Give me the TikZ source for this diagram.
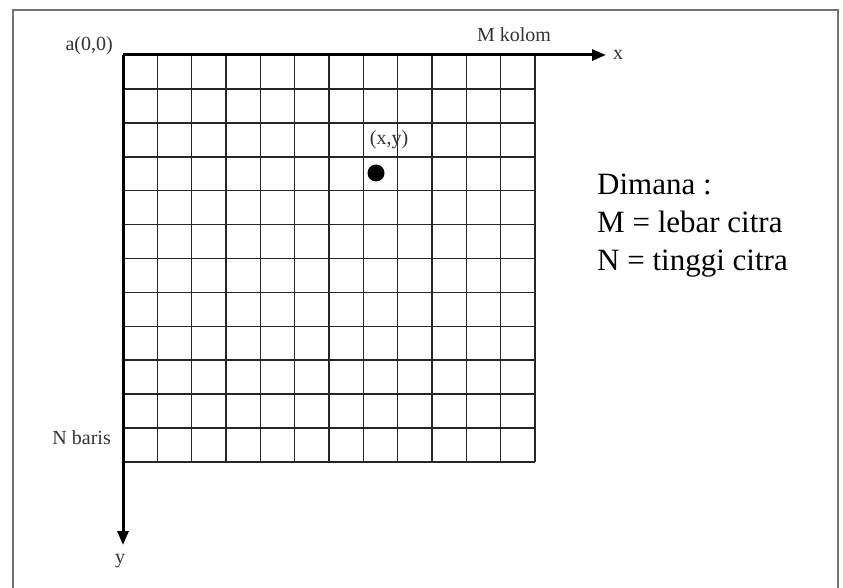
\documentclass[tikz,border=0pt]{standalone}
\usepackage{fontspec}
\setmainfont{Liberation Serif}
\usetikzlibrary{arrows.meta}
\begin{document}
\begin{tikzpicture}[x=1pt,y=-1pt,
    lbl/.style={black!80,font=\fontsize{20}{22}\selectfont,inner sep=1pt},
    axis/.style={line width=3pt,-{Triangle[length=14pt,width=11pt]}},
    pixgrid/.style={line width=1.6pt,black!85}]
  \useasboundingbox (0,0) rectangle (843,588);
  \draw[black!55,line width=2pt] (13,588) -- (13,10) -- (838,10) -- (838,588);
  % grid of pixels, 12 x 12
  \foreach \i in {0,...,12} {
    \draw[pixgrid] ({123+34.33*\i},55) -- ({123+34.33*\i},462);
    \draw[pixgrid] (123,{55+33.92*\i}) -- (535,{55+33.92*\i});
  }
  \coordinate (o) at (123,55);
  \coordinate (xend) at (606,55);
  \coordinate (yend) at (123,545);
  \draw[axis] (o) -- (xend);
  \draw[axis] (o) -- (yend);
  \node[lbl,anchor=west] (xl) at (612,55) {x};
  \node[lbl] (yl) at (120,561) {y};
  \node[lbl,anchor=east] (orig) at (114,46) {a(0,0)};
  \node[lbl] (mkol) at (514,35) {M kolom};
  \node[lbl,anchor=east] (nbar) at (112,438) {N baris};
  % the pixel (x,y)
  \fill (376,173) circle (8.5) coordinate (px);
  \node[lbl] (pxl) at (389,140) {(x,y)};
  \node[anchor=north west,align=left,font=\fontsize{31}{38}\selectfont,inner sep=0pt] (ket) at (597,174)
    {Dimana :\\M = lebar citra\\N = tinggi citra};
\end{tikzpicture}
\end{document}
